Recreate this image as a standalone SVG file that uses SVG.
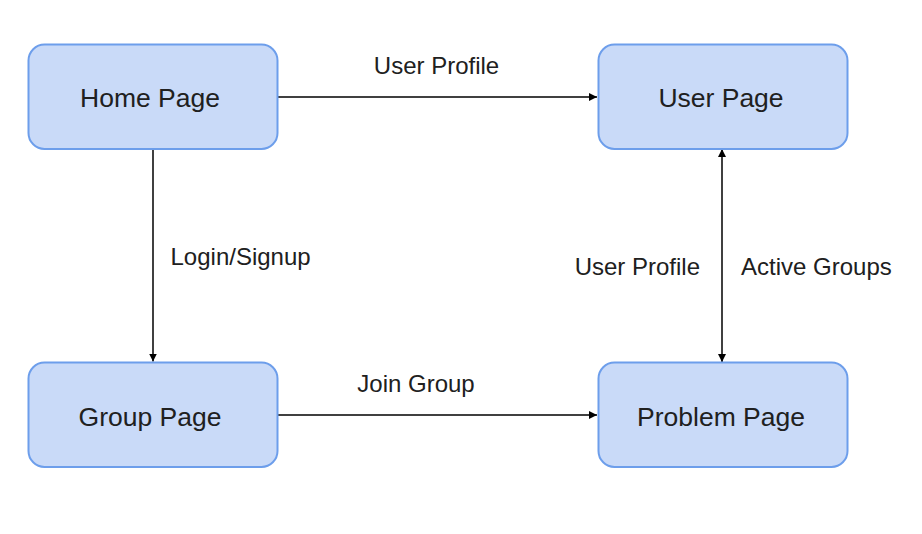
<svg xmlns="http://www.w3.org/2000/svg" width="922" height="534" viewBox="0 0 922 534">
<style>
.node rect{fill:#c9daf8;stroke:#6d9eeb;stroke-width:2}
.node text{font-family:"Liberation Sans",Arial,sans-serif;font-size:26.5px;fill:#202020;text-anchor:middle}
.lbl{font-family:"Liberation Sans",Arial,sans-serif;font-size:24px;fill:#202020}
.edge{stroke:#000;stroke-width:1.5;fill:none}
</style>
<defs>
<marker id="ah" viewBox="0 0 10 10" refX="10" refY="5" markerWidth="8" markerHeight="8" markerUnits="userSpaceOnUse" orient="auto-start-reverse">
<path d="M0,0 L10,5 L0,10 z" fill="#000"/>
</marker>
</defs>
<rect width="922" height="534" fill="#fff"/>
<g id="connectors">
<line class="edge" x1="278" y1="97" x2="597" y2="97" marker-end="url(#ah)"/>
<line class="edge" x1="153" y1="150" x2="153" y2="361.5" marker-end="url(#ah)"/>
<line class="edge" x1="278" y1="415" x2="597" y2="415" marker-end="url(#ah)"/>
<line class="edge" x1="722" y1="149" x2="722" y2="362" marker-start="url(#ah)" marker-end="url(#ah)"/>
<text class="lbl" x="436.5" y="74" text-anchor="middle">User Profile</text>
<text class="lbl" x="170.5" y="265">Login/Signup</text>
<text class="lbl" x="416" y="392" text-anchor="middle">Join Group</text>
<text class="lbl" x="700" y="275" text-anchor="end">User Profile</text>
<text class="lbl" x="741" y="275">Active Groups</text>
</g>
<g id="home" class="node">
<rect x="28.5" y="44.5" width="249" height="104.5" rx="16"/>
<text x="150" y="107">Home Page</text>
</g>
<g id="user" class="node">
<rect x="598.5" y="44.5" width="249" height="104.5" rx="16"/>
<text x="721" y="107">User Page</text>
</g>
<g id="group" class="node">
<rect x="28.5" y="362.5" width="249" height="104.5" rx="16"/>
<text x="150" y="426">Group Page</text>
</g>
<g id="problem" class="node">
<rect x="598.5" y="362.5" width="249" height="104.5" rx="16"/>
<text x="721" y="426">Problem Page</text>
</g>
</svg>
